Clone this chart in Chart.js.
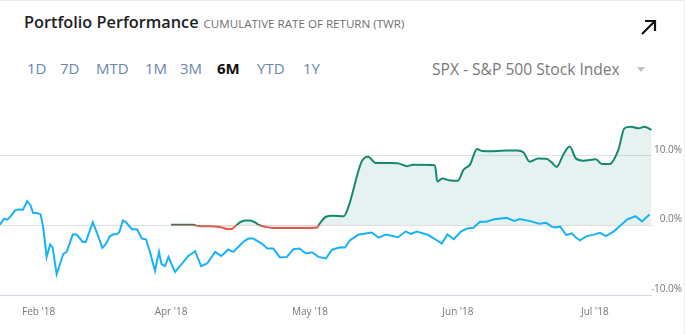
<!DOCTYPE html>
<html>
<head>
<meta charset="utf-8">
<script src="https://cdn.jsdelivr.net/npm/chart.js@4.4.1/dist/chart.umd.min.js"></script>
<style>
  body { margin: 0; background: #fff; font-family: "Open Sans", sans-serif; }
  .card { position: relative; width: 684px; height: 334px; border-top: 1px solid #ececec; border-right: 1px solid #ececec; overflow: hidden; }
  .title { position: absolute; left: 24px; top: 10px; font-size: 16.3px; font-weight: 600; color: #1e1e1e; white-space: nowrap; }
  .title small { font-size: 11.6px; font-weight: 400; color: #6f6f6f; margin-left: 5px; }
  .expand { position: absolute; left: 640px; top: 17px; }
  .tabs span { position: absolute; top: 57px; font-size: 15px; color: #6a85b3; }
  .tabs span.on { color: #111; font-weight: 700; }
  .bench { position: absolute; left: 432px; top: 57px; font-size: 15.6px; color: #7a7a7a; white-space: nowrap; }
  .caret { position: absolute; left: 637px; top: 66px; width: 0; height: 0; border-left: 4.5px solid transparent; border-right: 4.5px solid transparent; border-top: 5px solid #c2c2c2; }
  .plot { position: absolute; left: 0; top: 83px; width: 685px; height: 251px; }
</style>
</head>
<body>
<div class="card">
  <div class="title">Portfolio Performance<small>CUMULATIVE RATE OF RETURN (TWR)</small></div>
  <svg class="expand" width="18" height="18" viewBox="0 0 18 18">
    <path d="M2 16 L15 3 M5 3 H15 V13" fill="none" stroke="#111" stroke-width="2.2"/>
  </svg>
  <div class="tabs">
    <span style="left:27px">1D</span>
    <span style="left:60px">7D</span>
    <span style="left:96px">MTD</span>
    <span style="left:145px">1M</span>
    <span style="left:180px">3M</span>
    <span class="on" style="left:217px">6M</span>
    <span style="left:257px">YTD</span>
    <span style="left:303px">1Y</span>
  </div>
  <div class="bench">SPX - S&amp;P 500 Stock Index</div>
  <div class="caret"></div>
  <div class="plot"><canvas id="perfChart"></canvas></div>
</div>

<script>
// trading sessions since the start of the 6M window
const monthTickDays = [7.7, 34.1, 61.8, 91.3, 118.6];
const monthLabels = ["Feb '18", "Apr '18", "May '18", "Jun '18", "Jul '18"];
const yTicks = [-10, 0, 10];

// S&P 500 benchmark, cumulative %
const spxDays = [0, 0.8, 1.5, 2.1, 3.0, 3.6, 4.6, 5.4, 6.1, 6.6, 7.4, 8.1, 8.6, 9.3, 10.0, 10.5, 11.3, 12.0,
  12.6, 13.3, 14.5, 15.3, 16.5, 17.1, 18.5, 19.6, 20.4, 21.1, 21.9, 22.6, 23.3, 23.8, 24.5, 25.1, 26.3, 27.3,
  28.3, 29.1, 29.9, 30.9, 31.7, 32.2, 32.9, 33.6, 34.2, 34.9, 36.2, 37.5, 38.9, 40.1, 41.3, 42.9, 44.1, 44.9,
  45.5, 46.5, 47.5, 48.5, 49.5, 50.5, 52.2, 53.3, 54.5, 55.8, 57.2, 58.5, 59.7, 61.0, 62.2, 63.5, 65.0, 66.2,
  67.8, 68.8, 69.8, 71.4, 74.1, 75.5, 76.9, 79.4, 80.9, 81.9, 83.1, 85.4, 86.8, 88.1, 89.2, 90.5, 91.9, 93.1,
  94.4, 95.7, 97.0, 98.5, 101.0, 102.5, 103.7, 105.9, 107.5, 108.9, 110.0, 110.7, 111.7, 112.9, 114.0, 114.7,
  115.6, 117.0, 118.4, 119.6, 120.8, 122.4, 123.6, 125.1, 126.7, 128.0, 129.5];
const spxReturn = [0.1, 0.96, 0.81, 1.29, 2.14, 2.29, 2.24, 3.47, 2.86, 1.76, 1.76, 1.57, -0.24, -4.53, -2.76, -3.19, -7.0, -5.47,
  -4.14, -3.81, -1.33, -1.33, -2.39, -2.39, 0.47, -1.57, -3.24, -2.71, -1.57, -1.29, -1.29, -0.96, 0.71, 0.47, -0.57, -0.57,
  -1.9, -2.0, -3.81, -6.53, -3.81, -5.57, -5.86, -4.53, -5.57, -6.67, -5.57, -4.43, -3.71, -5.86, -5.47, -3.81, -4.39, -3.9,
  -3.47, -3.81, -3.1, -2.39, -1.9, -1.9, -2.61, -3.33, -3.33, -4.61, -4.53, -3.43, -3.33, -4.04, -3.86, -4.53, -4.76, -3.5,
  -3.14, -3.19, -2.14, -1.36, -1.03, -1.76, -1.33, -1.71, -0.86, -1.24, -0.89, -1.39, -2.0, -2.61, -1.31, -2.0, -0.89, -0.46,
  -0.36, 0.5, 0.53, 0.86, 1.07, 0.64, 0.9, 0.57, 0.24, 0.36, -0.19, -0.29, -0.19, -1.39, -1.14, -1.67,
  -2.14, -1.54, -1.33, -1.07, -1.54, -0.86, -0.1, 0.86, 1.31, 0.57, 1.57];

// portfolio TWR, cumulative %
const portDays = [34.1, 38.5, 39.5, 41.9, 43.5, 44.3, 45.3, 46.2, 46.9, 47.9, 48.9, 49.8, 50.8, 51.6, 53.0, 54.4,
  56.8, 59.2, 63.1, 63.9, 65.0, 66.2, 68.5, 69.5, 72.1, 73.4, 74.9, 79.2, 81.2, 82.4, 86.7, 87.2, 88.2, 89.9,
  91.3, 92.4, 93.7, 95.1, 96.2, 98.4, 101.1, 103.1, 104.4, 105.6, 107.3, 108.9, 110.0, 111.0, 112.3, 113.6,
  114.8, 116.3, 118.8, 120.0, 121.6, 123.3, 124.5, 125.8, 127.3, 128.5, 129.9];
const portReturn = [0.1, 0.1, -0.1, -0.14, -0.21, -0.33, -0.54, -0.53, -0.14, 0.47, 0.71, 0.71, 0.47, 0.07, -0.21, -0.39,
  -0.39, -0.39, -0.36, 0.43, 1.24, 1.36, 1.29, 2.71, 9.14, 9.86, 8.96, 8.93, 8.5, 8.71, 8.64, 6.29, 6.71, 6.43,
  6.4, 7.97, 8.71, 10.96, 10.67, 10.64, 10.74, 10.76, 10.47, 9.14, 9.6, 9.57, 9.04, 8.39, 10.14, 11.31,
  9.64, 9.29, 9.49, 8.81, 8.81, 10.86, 13.93, 14.17, 13.93, 14.14, 13.71];

const GREEN = '#138a6f';
const RED = '#e05a4c';
const BLUE = '#1ab2f6';

// green above the zero line, red below it
function gainLossColor(context) {
  const chart = context.chart;
  const area = chart.chartArea;
  if (!area) return GREEN;
  const zero = chart.scales.y.getPixelForValue(0);
  const stop = Math.min(Math.max((zero - area.top) / (area.bottom - area.top), 0), 1);
  const g = chart.ctx.createLinearGradient(0, area.top, 0, area.bottom);
  g.addColorStop(0, GREEN);
  g.addColorStop(stop, GREEN);
  g.addColorStop(stop, RED);
  g.addColorStop(1, RED);
  return g;
}

new Chart(document.getElementById('perfChart'), {
  type: 'line',
  data: {
    datasets: [{
      label: 'Portfolio',
      data: portDays.map((d, i) => ({ x: d, y: portReturn[i] })),
      borderColor: gainLossColor,
      borderWidth: 2,
      cubicInterpolationMode: 'monotone',
      pointRadius: 0,
      fill: { target: 'origin', above: 'rgba(19, 138, 111, 0.11)', below: 'rgba(224, 90, 76, 0.14)' }
    }, {
      label: 'SPX',
      data: spxDays.map((d, i) => ({ x: d, y: spxReturn[i] })),
      borderColor: BLUE,
      borderWidth: 2,
      tension: 0,
      pointRadius: 0,
      fill: false
    }]
  },
  options: {
    responsive: true,
    maintainAspectRatio: false,
    animation: false,
    layout: { padding: { left: 0, right: 3, top: 0, bottom: 0 } },
    plugins: {
      legend: { display: false },
      tooltip: { enabled: false },
      filler: { drawTime: 'beforeDatasetsDraw' }
    },
    scales: {
      x: {
        type: 'linear',
        min: 0,
        max: 130,
        grid: { display: false, drawTicks: false },
        border: { display: false },
        afterBuildTicks: (axis) => { axis.ticks = monthTickDays.map(v => ({ value: v })); },
        afterFit: (axis) => { axis.height = 40; },
        ticks: {
          autoSkip: false,
          maxRotation: 0,
          padding: 11,
          color: '#777',
          font: { family: 'Open Sans', size: 10 },
          callback: (value, index) => monthLabels[index]
        }
      },
      y: {
        position: 'right',
        min: -10,
        max: 19,
        grid: {
          drawTicks: false,
          color: (ctx) => ctx.tick && ctx.tick.value === -10 ? '#cfd8e4' : '#e2e2e2'
        },
        border: { display: false },
        afterBuildTicks: (axis) => { axis.ticks = yTicks.map(v => ({ value: v })); },
        afterFit: (axis) => { axis.width = 30; },
        ticks: {
          crossAlign: 'far',
          padding: 3,
          labelOffset: -6,
          color: '#777',
          font: { family: 'Open Sans', size: 10 },
          callback: (value) => value.toFixed(1) + '%'
        }
      }
    }
  }
});
</script>
</body>
</html>
